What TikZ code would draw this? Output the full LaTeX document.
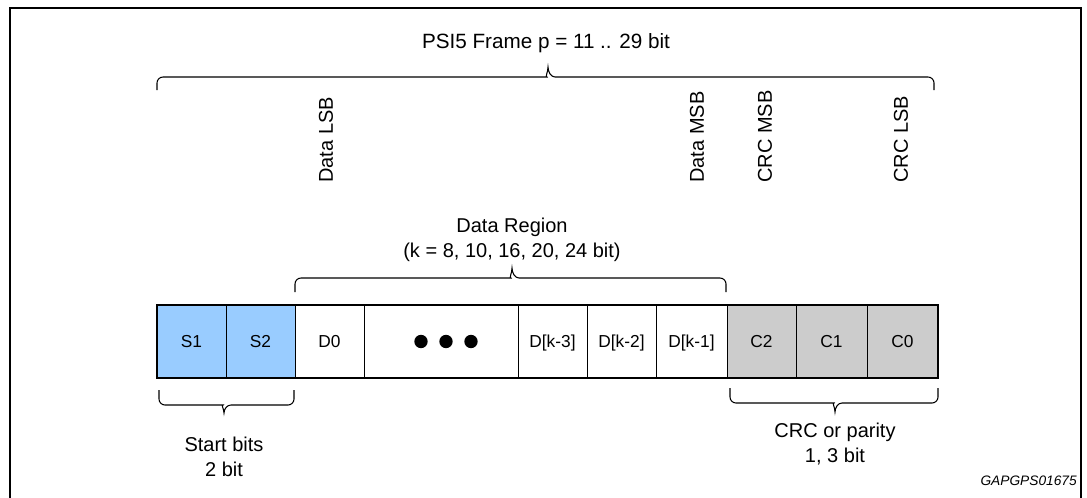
\documentclass[tikz,border=0pt]{standalone}
\usepackage{fontspec}
\setmainfont{Liberation Sans}
\definecolor{sblue}{HTML}{99CCFF}
\definecolor{cgrey}{HTML}{CCCCCC}
\tikzset{
  big/.style={font=\fontsize{15}{18}\selectfont, inner sep=0pt},
  vlabel/.style={big, rotate=90, anchor=west},
  cellst/.style={draw, line width=0.75pt, minimum height=54.75pt, inner sep=0pt, outer sep=0pt,
    font=\fontsize{13}{15}\selectfont, text height=9.3pt, text depth=0pt},
  bracest/.style={line width=0.8pt},
  framest/.style={line width=2pt},
  rowline/.style={line width=2.2pt},
  dotst/.style={circle, fill=black, inner sep=0pt, minimum size=10pt}
}
\newcommand\mkcell[5]{\node[cellst, fill=#4, minimum width={(#3-#2)*0.75pt}] (#1) at ({(#2+#3)/2},341.5) {#5};}
% brace: x1, x2, xc, ytip, yh, ypk
\newcommand\mkbrace[6]{%
  \draw[bracest, rounded corners=4.5pt] (#1,#4) -- (#1,#5) -- ({#3-7},#5)
    [sharp corners] .. controls ({#3-3},#5) and (#3,{#5+(#6-#5)*0.5}) .. (#3,#6)
    .. controls (#3,{#5+(#6-#5)*0.5}) and ({#3+3},#5) .. ({#3+7},#5)
    [rounded corners=4.5pt] -- (#2,#5) -- (#2,#4);}
\begin{document}
\begin{tikzpicture}[x=0.75pt,y=-0.75pt]
\useasboundingbox (0,0) rectangle (1087,497);
\draw[framest] (10,8) rectangle (1081,502);

% title and top brace
\node[big, font=\fontsize{15.5}{18}\selectfont, anchor=base] (title) at (546,48) {PSI5 Frame p = 11 .. 29 bit};
\mkbrace{157}{934}{548}{90}{77}{67}

% vertical labels
\node[vlabel] (dlsb) at (326,183) {Data LSB};
\node[vlabel] (dmsb) at (697,183) {Data MSB};
\node[vlabel] (cmsb) at (765,183) {CRC MSB};
\node[vlabel] (clsb) at (901,183) {CRC LSB};

% data region
\node[big, anchor=base] (dr1) at (512,232) {Data Region};
\node[big, anchor=base] (dr2) at (512,257) {(k = 8, 10, 16, 20, 24 bit)};
\mkbrace{295}{726}{512}{292}{278}{268}

% cells
\mkcell{s1}{157}{226}{sblue}{S1}
\mkcell{s2}{226}{295}{sblue}{S2}
\mkcell{d0}{295}{364}{white}{D0}
\mkcell{dd}{364}{518}{white}{}
\mkcell{dk3}{518}{587}{white}{D[k-3]}
\mkcell{dk2}{587}{656}{white}{D[k-2]}
\mkcell{dk1}{656}{727}{white}{D[k-1]}
\mkcell{c2}{727}{796}{cgrey}{C2}
\mkcell{c1}{796}{867}{cgrey}{C1}
\mkcell{c0}{867}{938}{cgrey}{C0}
\draw[rowline] (s1.north west) rectangle (c0.south east);
\node[dotst] (dot1) at (421,341.5) {};
\node[dotst] (dot2) at (446,341.5) {};
\node[dotst] (dot3) at (471,341.5) {};

% bottom braces and labels
\mkbrace{159}{294}{224}{390}{405}{413}
\node[big, anchor=base] (sb1) at (224,451) {Start bits};
\node[big, anchor=base] (sb2) at (224,476) {2 bit};
\mkbrace{730}{938}{835}{388}{403}{412}
\node[big, anchor=base] (crc1) at (835,437) {CRC or parity};
\node[big, anchor=base] (crc2) at (835,462) {1, 3 bit};

\node[font=\fontsize{10.3}{12}\selectfont\itshape, anchor=base east, inner sep=0pt] (gid) at (1077,485) {GAPGPS01675};
\end{tikzpicture}
\end{document}
